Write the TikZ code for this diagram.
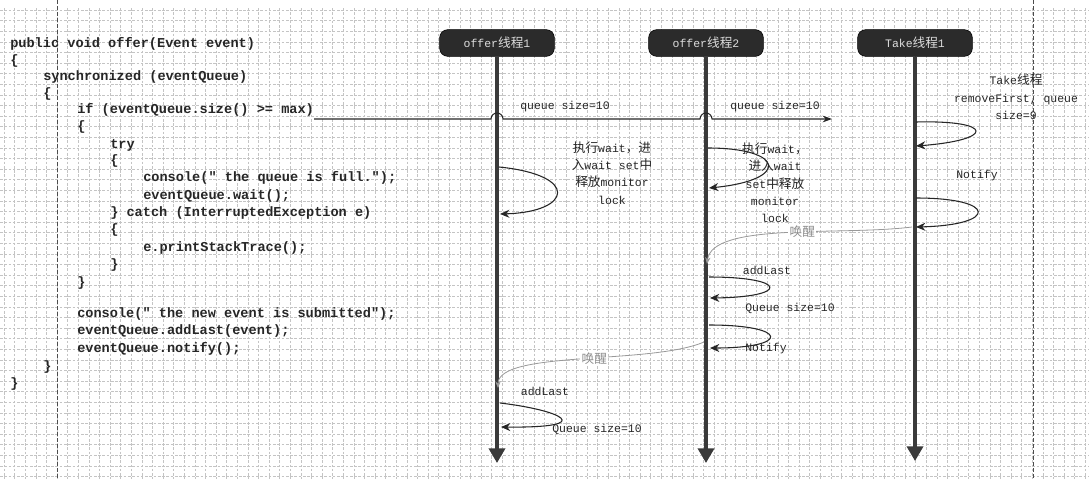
\documentclass[tikz,border=0pt]{standalone}
\usepackage{fontspec}
\setmonofont{Liberation Mono}
\newfontfamily\cjk{Noto Sans CJK SC}
\usetikzlibrary{arrows.meta}
\newcommand{\zh}[1]{{\cjk\fontsize{9.5}{13}\selectfont #1}}
\definecolor{headfill}{HTML}{2B2B2B}
\definecolor{headtext}{HTML}{DDDDDD}
\definecolor{lifegray}{HTML}{3A3A3A}
\definecolor{gridgray}{HTML}{C4C4C4}

\begin{document}
\begin{tikzpicture}[x=0.75pt,y=-0.75pt,
  grid/.style={draw=gridgray,line width=0.35pt,dash pattern=on 2pt off 1.2pt},
  sepline/.style={draw=black!70,line width=0.6pt,dash pattern=on 3pt off 1.5pt},
  code/.style={anchor=west,inner sep=0pt,text=black!85,
    font=\ttfamily\bfseries\fontsize{10.2}{12}\selectfont,text height=7pt,text depth=2pt},
  head/.style={rounded corners=6pt,fill=headfill,draw=black,minimum width=86pt,
    minimum height=20pt,inner sep=0pt,text=headtext,font=\ttfamily\fontsize{8.6}{10}\selectfont},
  lifeline/.style={draw=lifegray,line width=2.6pt,-{Triangle[length=11pt,width=12pt]}},
  qline/.style={draw=black!85,line width=0.8pt,-{Stealth[length=7pt,width=5pt]}},
  selfloop/.style={draw=black!85,line width=0.8pt,-{Stealth[length=7pt,width=6pt]}},
  wake/.style={draw=black!40,line width=0.6pt,-{Stealth[length=5pt,width=4pt]}},
  wakelbl/.style={fill=white,inner sep=1pt,text=black!45},
  lbl/.style={align=center,inner sep=1pt,text=black!85,font=\ttfamily\fontsize{8.6}{13}\selectfont},
]
\useasboundingbox (0,0) rectangle (1089,479);
\fill[white] (0,0) rectangle (1089,479);

% squared paper
\foreach \gx in {0,...,102} \draw[grid] ({4+\gx*10.6},8) -- ({4+\gx*10.6},479);
\foreach \gy in {0,...,44} \draw[grid] (0,{10+\gy*10.6}) -- (1089,{10+\gy*10.6});
\draw[sepline] (57,0) -- (57,479);
\draw[sepline] (1033,0) -- (1033,479);

% source code
\node[code] (c1)  at (10,44)  {public void offer(Event event)};
\node[code] (c2)  at (10,61)  {\{};
\node[code] (c3)  at (43,77)  {synchronized (eventQueue)};
\node[code] (c4)  at (43,94)  {\{};
\node[code] (ifline) at (77,110) {if (eventQueue.size() >= max)};
\node[code] (c6)  at (77,127) {\{};
\node[code] (c7)  at (110,145) {try};
\node[code] (c8)  at (110,161) {\{};
\node[code] (c9)  at (143,178) {console(" the queue is full.");};
\node[code] (c10) at (143,196) {eventQueue.wait();};
\node[code] (c11) at (110,213) {\} catch (InterruptedException e)};
\node[code] (c12) at (110,230) {\{};
\node[code] (c13) at (143,248) {e.printStackTrace();};
\node[code] (c14) at (110,265) {\}};
\node[code] (c15) at (77,283) {\}};
\node[code] (c16) at (77,314) {console(" the new event is submitted");};
\node[code] (c17) at (77,331) {eventQueue.addLast(event);};
\node[code] (c18) at (77,349) {eventQueue.notify();};
\node[code] (c19) at (43,367) {\}};
\node[code] (c20) at (10,384) {\}};

% thread headers and lifelines
\node[head] (h1) at (497,43) {offer\zh{线程}1};
\node[head] (h2) at (706,43) {offer\zh{线程}2};
\node[head] (h3) at (915,43) {Take\zh{线程}1};
\coordinate (e1) at (497,463);
\coordinate (e2) at (706,463);
\coordinate (e3) at (915,461);
\draw[lifeline] (h1.south) -- (e1);
\draw[lifeline] (h2.south) -- (e2);
\draw[lifeline] (h3.south) -- (e3);

% queue size line, hopping over the lifelines
\coordinate (hop1) at (497,119);
\coordinate (hop2) at (706,119);
\coordinate (qend) at (832,119);
\draw[qline] (ifline.east |- hop1) -- ([xshift=-4.5pt]hop1)
  arc[start angle=180,end angle=360,radius=6] -- ([xshift=-4.5pt]hop2)
  arc[start angle=180,end angle=360,radius=6] -- (qend);
\node[lbl] (q1) at (565,107) {queue size=10};
\node[lbl] (q2) at (775,107) {queue size=10};

% Take thread
\coordinate (t1a) at (916,122);
\coordinate (t1b) at (916,146);
\coordinate (t2a) at (916,198);
\coordinate (t2b) at (916,227);
\draw[selfloop] (t1a) .. controls (995,120) and (995,140) .. (t1b);
\draw[selfloop] (t2a) .. controls (998,198) and (998,225) .. (t2b);
\node[lbl] (tk) at (1016,97) {Take\zh{线程}\\removeFirst, queue\\size=9};
\node[lbl] (nt) at (977,176) {Notify};

% offer thread 1 waits
\coordinate (o1a) at (499,167);
\coordinate (o1b) at (500,214);
\draw[selfloop] (o1a) .. controls (580,175) and (572,212) .. (o1b);
\node[lbl] (w1) at (612,173) {\zh{执行}wait\zh{，进}\\\zh{入}wait set\zh{中}\\\zh{释放}monitor\\lock};

% offer thread 2 waits
\coordinate (o2a) at (708,148);
\coordinate (o2b) at (709,188);
\draw[selfloop] (o2a) .. controls (785,148) and (790,180) .. (o2b);
\node[lbl] (w2) at (775,183) {\zh{执行}wait\zh{，}\\\zh{进入}wait\\set\zh{中释放}\\monitor\\lock};

% Take wakes offer thread 2
\coordinate (tw) at (912,227);
\coordinate (o2in) at (707,264);
\draw[wake] (tw) .. controls (840,236) and (712,222) .. node[pos=0.43,wakelbl] {\zh{唤醒}} (o2in);

% offer thread 2 adds and notifies
\coordinate (o2c) at (709,277);
\coordinate (o2d) at (710,298);
\coordinate (o2e) at (709,325);
\coordinate (o2f) at (710,348);
\draw[selfloop] (o2c) .. controls (788,277) and (790,297) .. (o2d);
\draw[selfloop] (o2e) .. controls (790,325) and (790,348) .. (o2f);
\node[lbl] (a2) at (767,270) {addLast};
\node[lbl] (qs2) at (790,308) {Queue size=10};
\node[lbl] (n2) at (766,349) {Notify};

% offer thread 2 wakes offer thread 1
\coordinate (o2out) at (704,342);
\coordinate (o1in) at (498,388);
\draw[wake] (o2out) .. controls (650,365) and (498,350) .. node[pos=0.45,wakelbl] {\zh{唤醒}} (o1in);

% offer thread 1 adds
\coordinate (o1c) at (500,403);
\coordinate (o1d) at (501,427);
\draw[selfloop] (o1c) .. controls (560,410) and (600,428) .. (o1d);
\node[lbl] (a1) at (545,391) {addLast};
\node[lbl] (qs1) at (597,429) {Queue size=10};
\end{tikzpicture}
\end{document}
